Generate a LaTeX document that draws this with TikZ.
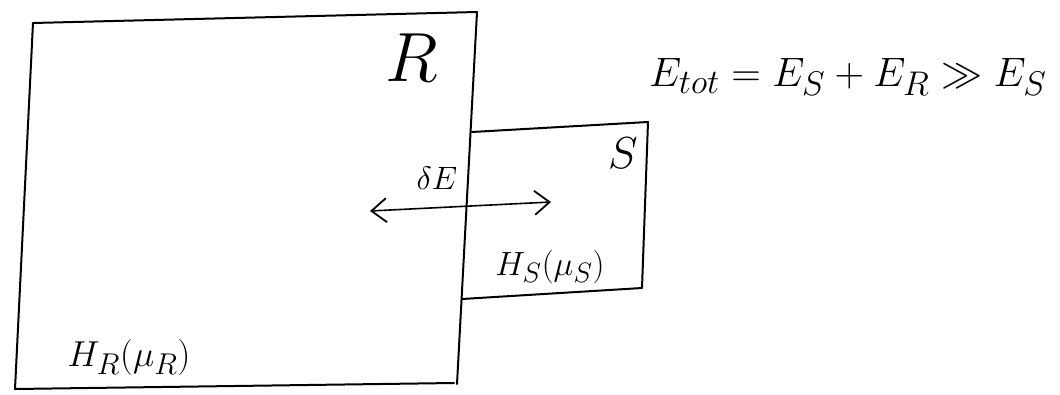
\documentclass[tikz,border=0pt]{standalone}
\usetikzlibrary{arrows.meta}
\tikzset{
  hand/.style={line width=2pt, line join=round, line cap=round, black},
  lab/.style={inner sep=0pt, anchor=center, font=\Huge},
  xchg/.style={hand, line width=1.6pt, {Straight Barb[length=15pt,width=24pt,line width=1.8pt]}-{Straight Barb[length=15pt,width=24pt,line width=1.8pt]}}
}
\begin{document}
\begin{tikzpicture}[x=1pt,y=-1pt]
\useasboundingbox (0,0) rectangle (1060,394);
% reservoir R
\coordinate (rtl) at (33,23);
\coordinate (rtr) at (477,12);
\coordinate (rbr) at (457,384);
\coordinate (rbl) at (15,389);
\draw[hand] (rbl) -- (rtl) -- (rtr) -- (rbr);
\draw[hand] (rbl) -- (454,383);
% system S
\coordinate (stl) at (472,132);
\coordinate (str) at (648,122);
\coordinate (sbr) at (642,288);
\coordinate (sbl) at (462,299);
\draw[hand] (stl) -- (str) -- (sbr) -- (sbl);
% exchange arrow
\coordinate (a1) at (370,211);
\coordinate (a2) at (551,202);
\draw[xchg] (a1) -- (a2);
% labels
\node[lab, scale=2.8] (lR) at (412,58) {$R$};
\node[lab, scale=1.8] (lS) at (623,153) {$S$};
\node[lab, scale=1.3] (ldE) at (437,178) {$\delta E$};
\node[lab, scale=1.35] (lHS) at (550,267) {$H_S(\mu_S)$};
\node[lab, scale=1.45] (lHR) at (129,357) {$H_R(\mu_R)$};
\node[lab, scale=1.65] (eq) at (848,77) {$E_{tot} = E_S + E_R \gg E_S$};
\end{tikzpicture}
\end{document}
